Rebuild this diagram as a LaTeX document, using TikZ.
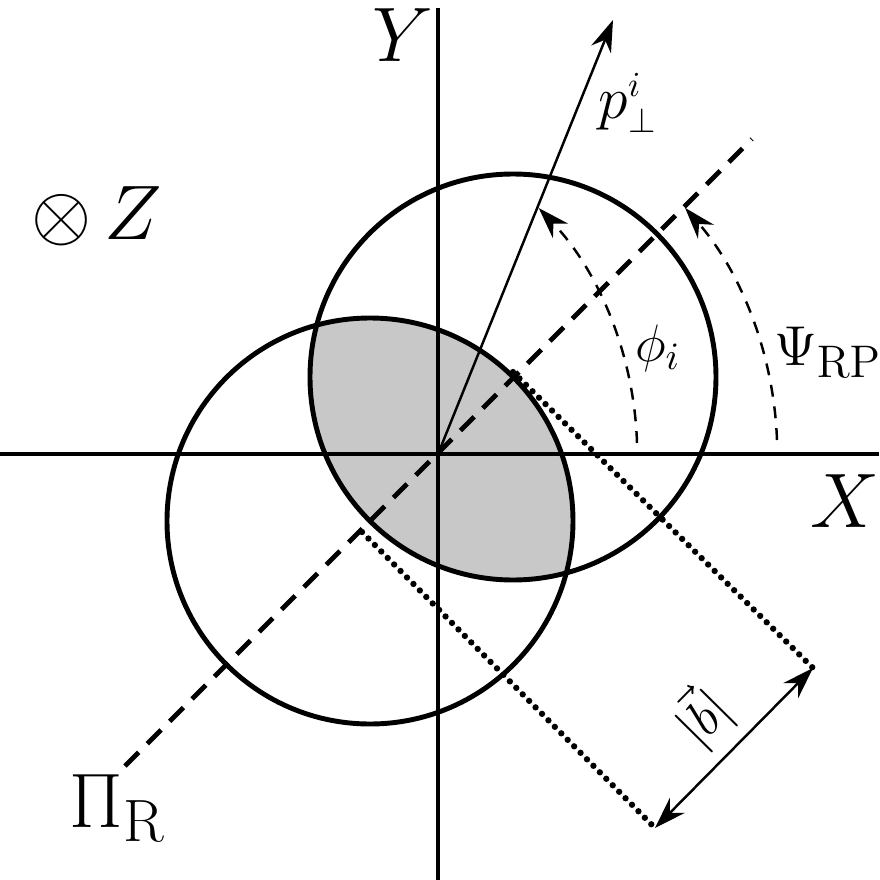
\RequirePackage{fix-cm}
\documentclass[tikz,border=0pt]{standalone}
\usepackage{tikz}
\usetikzlibrary{arrows.meta}
\DeclareMathSizes{22}{22}{17}{12}
\DeclareMathSizes{17}{17}{10}{8}
\DeclareMathSizes{16}{16}{13}{10}
\DeclareMathSizes{15}{15}{11}{8}
\definecolor{lensgray}{HTML}{C8C8C8}

\begin{document}
\begin{tikzpicture}[
  axis/.style={line width=1.4pt},
  ring/.style={line width=1.4pt},
  plane/.style={line width=1.4pt,dash pattern=on 5.5pt off 3.5pt},
  proj/.style={line width=1.8pt,line cap=round,dash pattern=on 0pt off 2.6pt},
  vec/.style={-{Stealth[length=9pt,width=6pt]},line width=0.7pt},
  dvec/.style={{Stealth[length=9pt,width=6pt]}-{Stealth[length=9pt,width=6pt]},line width=0.7pt},
  angarr/.style={-{Stealth[length=9pt,width=6pt]},line width=0.7pt,dash pattern=on 3.4pt off 2.8pt},
  biglbl/.style={font=\fontsize{22}{26}\selectfont,inner sep=0pt},
  midlbl/.style={font=\fontsize{17}{20}\selectfont,inner sep=0pt},
  smalllbl/.style={font=\fontsize{15}{18}\selectfont,inner sep=0pt}
]
\useasboundingbox (-4.38,-4.26) rectangle (4.41,4.54);
\coordinate (O) at (0,0);
\coordinate (xl) at (-4.38,0); \coordinate (xr) at (4.41,0);
\coordinate (yb) at (0,-4.26); \coordinate (yt) at (0,4.46);
\coordinate (c1) at (0.75,0.77); \coordinate (c2) at (-0.68,-0.67);
\coordinate (pl) at (-3.13,-3.12); \coordinate (pu) at (3.14,3.15);
\coordinate (e1) at (0.75,0.82); \coordinate (b1) at (3.75,-2.14);
\coordinate (e2) at (-0.76,-0.78); \coordinate (b2) at (2.17,-3.74);
\coordinate (ptip) at (1.75,4.34);
\coordinate (phis) at (1.99,0.11); \coordinate (psis) at (3.39,0.14);
\begin{scope}
\clip (c1) circle[radius=2.03];
\fill[lensgray] (c2) circle[radius=2.03];
\end{scope}
\draw[axis] (xl)--(xr); \draw[axis] (yb)--(yt);
\draw[ring] (c1) circle[radius=2.03];
\draw[ring] (c2) circle[radius=2.03];
\draw[plane] (pl)--(pu);
\draw[proj] (e1)--(b1); \draw[proj] (e2)--(b2);
\draw[vec] (O)--(ptip);
\draw[dvec] (b2)--node[smalllbl,midway,sloped,above=3pt]{$|\vec{b}|$}(b1);
\draw[angarr] (phis) arc[start angle=1.8,end angle=43.6,radius=3.57];
\draw[angarr] (psis) arc[start angle=2.1,end angle=41.1,radius=3.74];
\node[biglbl] (ylbl) at (-0.35,4.19) {$Y$};
\node[biglbl] (xlbl) at (4.07,-0.47) {$X$};
\node[biglbl] (zlbl) at (-3.41,2.38) {$\otimes\,Z$};
\node[biglbl] (pilbl) at (-3.20,-3.54) {$\Pi_{\mathrm{R}}$};
\node[midlbl] (plbl) at (1.90,3.51) {$p_\perp^i$};
\node[smalllbl] (philbl) at (2.20,1.06) {$\phi_i$};
\node[smalllbl,font=\fontsize{16}{19}\selectfont] (psilbl) at (3.90,1.02) {$\Psi_{\mathrm{RP}}$};
\end{tikzpicture}
\end{document}
